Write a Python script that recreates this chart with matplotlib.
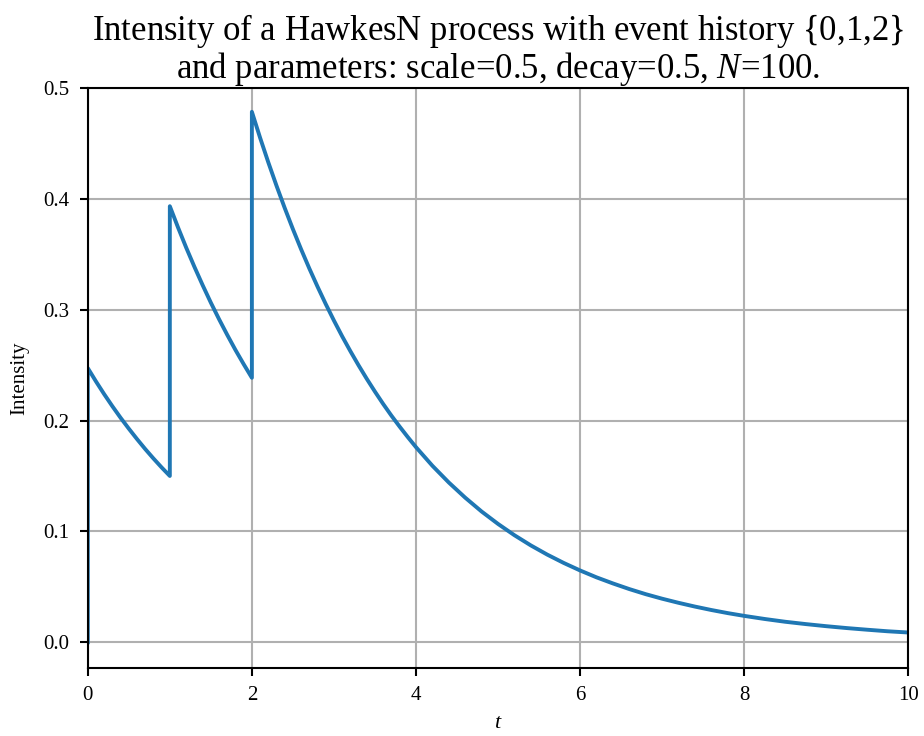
import numpy as np
import matplotlib
matplotlib.use("Agg")
import matplotlib.pyplot as plt

plt.rcParams['font.family'] = ['Liberation Serif', 'DejaVu Serif']
plt.rcParams['mathtext.fontset'] = 'custom'
plt.rcParams['mathtext.rm'] = 'Liberation Serif'
plt.rcParams['mathtext.it'] = 'Liberation Serif:italic'

# intensity samples between events at t = 0, 1, 2
t_seg0 = [0.0, 0.1, 0.2, 0.3, 0.4, 0.5, 0.6, 0.7, 0.8, 0.9, 1.0]
lam_seg0 = [0.2475, 0.2354, 0.2239, 0.2130, 0.2026, 0.1928, 0.1834, 0.1744,
            0.1659, 0.1578, 0.1501]

t_seg1 = [1.0, 1.1, 1.2, 1.3, 1.4, 1.5, 1.6, 1.7, 1.8, 1.9, 2.0]
lam_seg1 = [0.3936, 0.3744, 0.3561, 0.3388, 0.3223, 0.3065, 0.2916, 0.2774,
            0.2638, 0.2510, 0.2387]

t_seg2 = [2.0, 2.1, 2.2, 2.3, 2.4, 2.5, 2.6, 2.7, 2.8, 2.9, 3.0,
          3.1, 3.2, 3.3, 3.4, 3.5, 3.6, 3.7, 3.8, 3.9, 4.0,
          4.2, 4.4, 4.6, 4.8, 5.0, 5.2, 5.4, 5.6, 5.8, 6.0,
          6.2, 6.4, 6.6, 6.8, 7.0, 7.2, 7.4, 7.6, 7.8, 8.0,
          8.25, 8.5, 8.75, 9.0, 9.25, 9.5, 9.75, 10.0]
lam_seg2 = [0.4788, 0.4554, 0.4332, 0.4121, 0.3920, 0.3729, 0.3547, 0.3374,
            0.3210, 0.3053, 0.2904,
            0.2762, 0.2628, 0.2500, 0.2378, 0.2262, 0.2151, 0.2046, 0.1947,
            0.1852, 0.1761,
            0.1593, 0.1442, 0.1305, 0.1180, 0.1068, 0.0966, 0.0874, 0.0791,
            0.0716, 0.0648,
            0.0586, 0.0531, 0.0480, 0.0434, 0.0393, 0.0356, 0.0322, 0.0291,
            0.0263, 0.0238,
            0.0210, 0.0185, 0.0164, 0.0145, 0.0128, 0.0113, 0.0099, 0.0088]

t = [0.0] + t_seg0 + t_seg1 + t_seg2
intensity = [0.0] + lam_seg0 + lam_seg1 + lam_seg2

fig, ax = plt.subplots(figsize=(9.24, 7.36), dpi=100)
fig.subplots_adjust(left=0.095, right=0.983, top=0.88, bottom=0.092)

ax.plot(t, intensity, color='#1f77b4', lw=2.8)
ax.set_xlim(0, 10)
ax.set_ylim(-0.0235, 0.5)
ax.set_xticks([0, 2, 4, 6, 8, 10])
ax.set_yticks([0.0, 0.1, 0.2, 0.3, 0.4, 0.5])
ax.grid(True, color='#b0b0b0', lw=1.5)
for s in ax.spines.values():
    s.set_linewidth(1.5)
ax.tick_params(labelsize=15, width=1.5, length=6, pad=7)

ax.set_xlabel('$t$', fontsize=16, labelpad=6)
ax.set_ylabel('Intensity', fontsize=15, labelpad=10)
ax.set_title('Intensity of a HawkesN process with event history $\\{0{,}1{,}2\\}$\n'
             'and parameters: scale=0.5, decay=0.5, $N$=100.', fontsize=25,
             linespacing=1.0, pad=6)

fig.savefig('out.png')
